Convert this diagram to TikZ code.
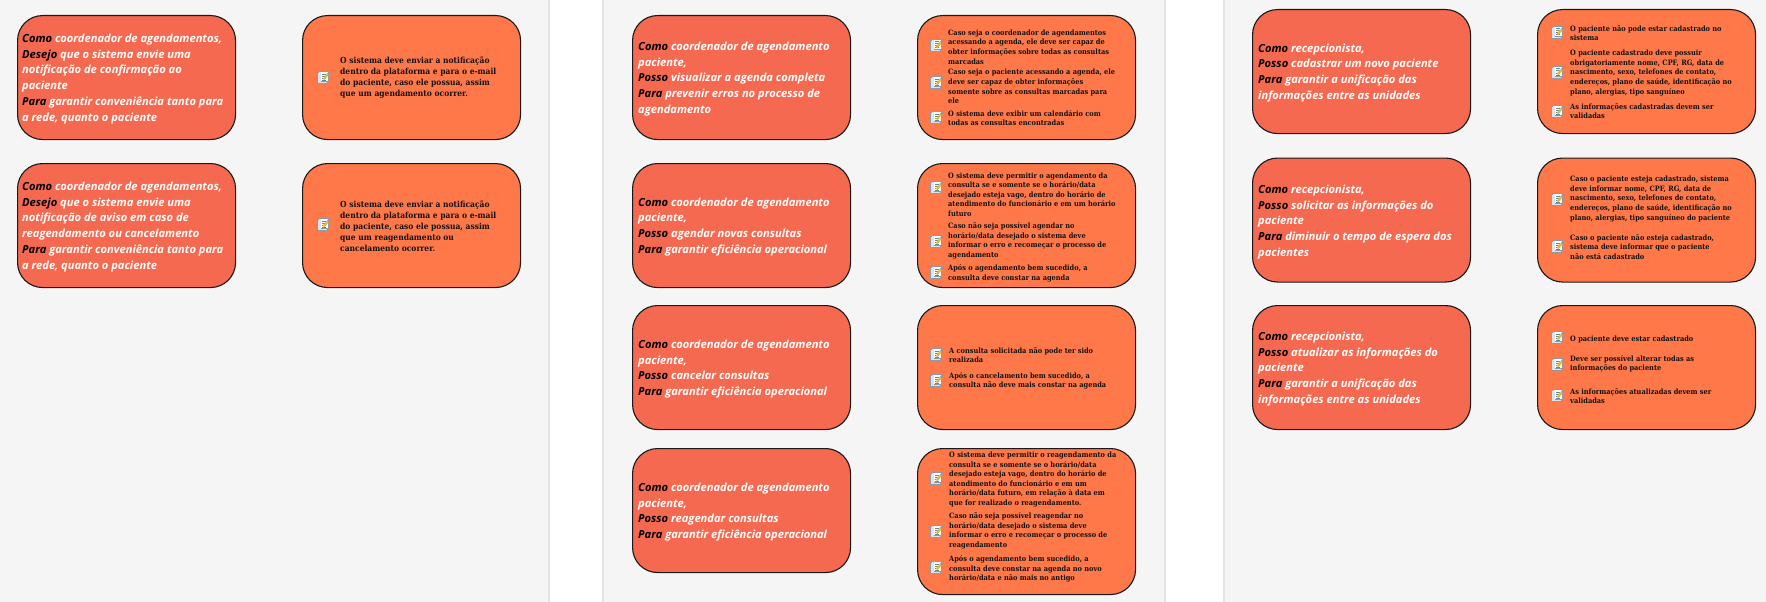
\documentclass[tikz,border=0pt]{standalone}
\usepackage{fontspec}
\newfontfamily\storyfont{Open Sans}
\newfontfamily\reqfont{DejaVu Serif Condensed}
\definecolor{panelbg}{HTML}{F5F5F5}
\definecolor{panelline}{HTML}{E4E4E4}
\definecolor{storyfill}{HTML}{F4694F}
\definecolor{reqfill}{HTML}{FF7849}
\definecolor{inktext}{HTML}{111111}
\definecolor{iconpage}{HTML}{DCE4EA}
\definecolor{iconedge}{HTML}{8C9AA6}
\definecolor{iconline}{HTML}{5F8A96}
\definecolor{iconpencil}{HTML}{E6B53A}
\tikzset{
  x=1pt,y=-1pt,
  panel/.style={fill=panelbg,draw=panelline,line width=1.2pt},
  cardbase/.style={draw=black!90,line width=1.1pt,rounded corners=25pt,minimum height=124pt,minimum width=218pt,anchor=north west,inner sep=0pt},
  story/.style={cardbase,fill=storyfill},
  req/.style={cardbase,fill=reqfill},
  storytext/.style={anchor=west,align=left,inner sep=0pt,yshift=-2pt,text=white,font=\storyfont\fontsize{11.15pt}{15.8pt}\selectfont\bfseries\itshape},
  reqtext/.style={anchor=west,align=left,inner sep=0pt,text=inktext,font=\reqfont\fontsize{7.35pt}{9.6pt}\selectfont\bfseries},
  reqlarge/.style={font=\reqfont\fontsize{8.4pt}{11pt}\selectfont\bfseries},
  pics/noteicon/.style={code={
    \fill[iconpage,draw=iconedge,line width=.4pt] (-6.5,-4.5) rectangle (3.5,5.8);
    \fill[white,draw=iconedge,line width=.3pt] (-4.6,-5.4) rectangle (4.6,4.6);
    \fill[iconpage] (-4.6,-5.4) rectangle (-2.8,4.6);
    \foreach \yy in {-3.2,-1.2,.8,2.8}{\draw[iconline,line width=.6pt] (-2,\yy) -- (1.8,\yy);}
    \draw[iconpencil,line width=2.2pt] (-.4,2.4) -- (4,-2.8);
    \draw[iconedge,line width=2.2pt] (4,-2.8) -- (5.8,-4.9);
  }}
}
\newcommand{\K}[1]{\textcolor{black}{#1}}
\newcommand{\reqitem}[7][]{%
  \pic at (#3,#4) {noteicon};
  \node[reqtext,#1] (#2) at (#5,#6) {#7};
}
\begin{document}
\begin{tikzpicture}
\useasboundingbox (0,0) rectangle (1766,602);
\fill[white] (0,0) rectangle (1766,602);
\draw[panel] (-2,-2) rectangle (549,604);
\draw[panel] (603,-2) rectangle (1165,604);
\draw[panel] (1224,-2) rectangle (1768,604);

% Panel 1
\node[story] (s11) at (17,15) {};
\node[story] (s12) at (17,163) {};
\node[req] (r11) at (302,15) {};
\node[req] (r12) at (302,163) {};
\node[storytext] (t11) at (22,77) {\K{Como} coordenador de agendamentos,\\\K{Desejo} que o sistema envie uma\\notificação de confirmação ao\\paciente\\\K{Para} garantir conveniência tanto para\\a rede, quanto o paciente};
\node[storytext] (t12) at (22,225) {\K{Como} coordenador de agendamentos,\\\K{Desejo} que o sistema envie uma\\notificação de aviso em caso de\\reagendamento ou cancelamento\\\K{Para} garantir conveniência tanto para\\a rede, quanto o paciente};
\reqitem[reqlarge]{q11}{324}{77}{340}{78}{O sistema deve enviar a notificação\\dentro da plataforma e para o e-mail\\do paciente, caso ele possua, assim\\que um agendamento ocorrer.}
\reqitem[reqlarge]{q12}{324}{224}{340}{226}{O sistema deve enviar a notificação\\dentro da plataforma e para o e-mail\\do paciente, caso ele possua, assim\\que um reagendamento ou\\cancelamento ocorrer.}

% Panel 2
\node[story] (s21) at (632,15) {};
\node[story] (s22) at (632,163) {};
\node[story] (s23) at (632,305) {};
\node[story] (s24) at (632,448) {};
\node[req] (r21) at (917,15) {};
\node[req] (r22) at (917,163) {};
\node[req] (r23) at (917,305) {};
\node[req,minimum height=146pt] (r24) at (917,448) {};
\node[storytext] (t21) at (638,77) {\K{Como} coordenador de agendamento\\paciente,\\\K{Posso} visualizar a agenda completa\\\K{Para} prevenir erros no processo de\\agendamento};
\node[storytext] (t22) at (638,225) {\K{Como} coordenador de agendamento\\paciente,\\\K{Posso} agendar novas consultas\\\K{Para} garantir eficiência operacional};
\node[storytext] (t23) at (638,367) {\K{Como} coordenador de agendamento\\paciente,\\\K{Posso} cancelar consultas\\\K{Para} garantir eficiência operacional};
\node[storytext] (t24) at (638,510) {\K{Como} coordenador de agendamento\\paciente,\\\K{Posso} reagendar consultas\\\K{Para} garantir eficiência operacional};
\reqitem{q211}{937}{45}{948}{47}{Caso seja o coordenador de agendamentos\\acessando a agenda, ele deve ser capaz de\\obter informações sobre todas as consultas\\marcadas}
\reqitem{q212}{937}{82}{948}{86.5}{Caso seja o paciente acessando a agenda, ele\\deve ser capaz de obter informações\\somente sobre as consultas marcadas para\\ele}
\reqitem{q213}{937}{117}{948}{118}{O sistema deve exibir um calendário com\\todas as consultas encontradas}
\reqitem{q221}{937}{187}{948}{194.5}{O sistema deve permitir o agendamento da\\consulta se e somente se o horário/data\\desejado esteja vago, dentro do horário de\\atendimento do funcionário e em um horário\\futuro}
\reqitem{q222}{937}{241}{948}{241}{Caso não seja possível agendar no\\horário/data desejado o sistema deve\\informar o erro e recomeçar o processo de\\agendamento}
\reqitem{q223}{937}{272}{948}{273.5}{Após o agendamento bem sucedido, a\\consulta deve constar na agenda}
\reqitem{q231}{937}{354}{949}{355}{A consulta solicitada não pode ter sido\\realizada}
\reqitem{q232}{937}{380}{949}{381}{Após o cancelamento bem sucedido, a\\consulta não deve mais constar na agenda}
\reqitem{q241}{937}{478}{949}{479.5}{O sistema deve permitir o reagendamento da\\consulta se e somente se o horário/data\\desejado esteja vago, dentro do horário de\\atendimento do funcionário e em um\\horário/data futuro, em relação à data em\\que for realizado o reagendamento.}
\reqitem{q242}{937}{531}{949}{531}{Caso não seja possível reagendar no\\horário/data desejado o sistema deve\\informar o erro e recomeçar o processo de\\reagendamento}
\reqitem{q243}{937}{567}{949}{569}{Após o agendamento bem sucedido, a\\consulta deve constar na agenda no novo\\horário/data e não mais no antigo}

% Panel 3
\node[story] (s31) at (1252,9) {};
\node[story] (s32) at (1252,157.5) {};
\node[story] (s33) at (1252,305) {};
\node[req] (r31) at (1537,9) {};
\node[req] (r32) at (1537,157.5) {};
\node[req] (r33) at (1537,305) {};
\node[storytext] (t31) at (1258,71) {\K{Como} recepcionista,\\\K{Posso} cadastrar um novo paciente\\\K{Para} garantir a unificação das\\informações entre as unidades};
\node[storytext] (t32) at (1258,220) {\K{Como} recepcionista,\\\K{Posso} solicitar as informações do\\paciente\\\K{Para} diminuir o tempo de espera dos\\pacientes};
\node[storytext] (t33) at (1258,367) {\K{Como} recepcionista,\\\K{Posso} atualizar as informações do\\paciente\\\K{Para} garantir a unificação das\\informações entre as unidades};
\reqitem{q311}{1558}{32}{1570}{33}{O paciente não pode estar cadastrado no\\sistema}
\reqitem{q312}{1558}{72}{1570}{73}{O paciente cadastrado deve possuir\\obrigatoriamente nome, CPF, RG, data de\\nascimento, sexo, telefones de contato,\\endereços, plano de saúde, identificação no\\plano, alergias, tipo sanguíneo}
\reqitem{q313}{1558}{111}{1570}{111}{As informações cadastradas devem ser\\validadas}
\reqitem{q321}{1558}{199}{1570}{199}{Caso o paciente esteja cadastrado, sistema\\deve informar nome, CPF, RG, data de\\nascimento, sexo, telefones de contato,\\endereços, plano de saúde, identificação no\\plano, alergias, tipo sanguíneo do paciente}
\reqitem{q322}{1558}{246}{1570}{247}{Caso o paciente não esteja cadastrado,\\sistema deve informar que o paciente\\não está cadastrado}
\reqitem{q331}{1558}{337}{1570}{339}{O paciente deve estar cadastrado}
\reqitem{q332}{1558}{364}{1570}{364}{Deve ser possível alterar todas as\\informações do paciente}
\reqitem{q333}{1558}{395}{1570}{396}{As informações atualizadas devem ser\\validadas}
\end{tikzpicture}
\end{document}
